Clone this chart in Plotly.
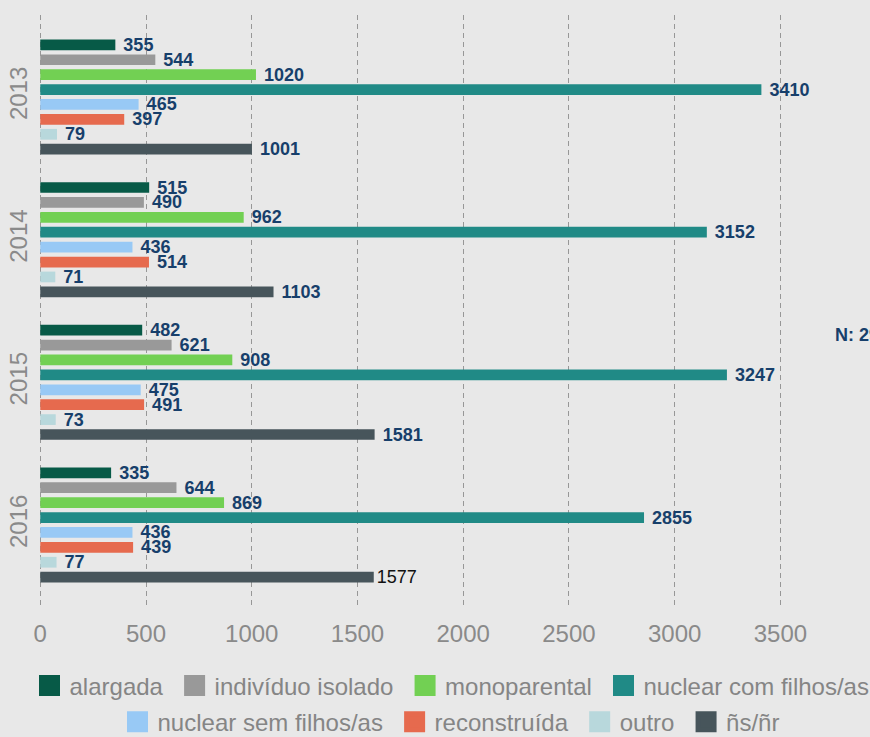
import plotly.graph_objects as go

# ---- data ----
years = ["2013", "2014", "2015", "2016"]
series_names = ["alargada", "indivíduo isolado", "monoparental", "nuclear com filhos/as",
                "nuclear sem filhos/as", "reconstruída", "outro", "ñs/ñr"]
alargada = [355, 515, 482, 335]
individuo_isolado = [544, 490, 621, 644]
monoparental = [1020, 962, 908, 869]
nuclear_com_filhos = [3410, 3152, 3247, 2855]
nuclear_sem_filhos = [465, 436, 475, 436]
reconstruida = [397, 514, 491, 439]
outro = [79, 71, 73, 77]
ns_nr = [1001, 1103, 1581, 1577]
x_ticks = [0, 500, 1000, 1500, 2000, 2500, 3000, 3500]

series_values = [alargada, individuo_isolado, monoparental, nuclear_com_filhos,
                 nuclear_sem_filhos, reconstruida, outro, ns_nr]
colors = ["#075a47", "#999999", "#72d053", "#208a86",
          "#98c9f5", "#e66a4e", "#b8d8dc", "#47555b"]

BG = "#e8e8e8"
LABEL = "#173f6b"
GRAY = "#8a8a8a"
FONT = "Liberation Sans, Arial, sans-serif"

fig = go.Figure()

for i, (name, vals, col) in enumerate(zip(series_names, series_values, colors)):
    templ = ["\u00a0<b>%{x}</b>"] * len(vals)
    tcol = [LABEL] * len(vals)
    if name == "ñs/ñr":
        templ[-1] = "%{x}"
        tcol[-1] = "#111111"
    fig.add_trace(go.Bar(
        y=years, x=vals, orientation="h", name=name,
        marker=dict(color=col, line=dict(width=0)),
        texttemplate=templ, textposition="outside",
        textfont=dict(family=FONT, size=18, color=tcol),
        constraintext="none", cliponaxis=False,
        showlegend=False, hoverinfo="x+name",
    ))

# legend entries (two rows)
for i, (name, col) in enumerate(zip(series_names, colors)):
    fig.add_trace(go.Scatter(
        x=[None], y=[None], mode="markers", name=name + "\u00a0",
        marker=dict(symbol="square", size=16, color=col, line=dict(width=5, color=col)),
        legend="legend" if i < 4 else "legend2",
        showlegend=True, hoverinfo="skip",
    ))

total_n = sum(sum(v) for v in series_values)

legend_common = dict(
    orientation="h", yanchor="middle",
    font=dict(family=FONT, size=24, color="#858585"),
    bgcolor="rgba(0,0,0,0)", itemsizing="trace", itemclick=False,
)

fig.update_layout(
    width=870, height=737,
    margin=dict(l=38.5, r=0, t=15, b=130, autoexpand=False),
    paper_bgcolor=BG, plot_bgcolor=BG,
    barmode="group", bargap=0.164, bargroupgap=0.28,
    font=dict(family=FONT, color=GRAY),
    legend=dict(x=-0.0114, xanchor="left", y=-0.1334, **legend_common),
    legend2=dict(x=0.5, xanchor="center", y=-0.1943, **legend_common),
    xaxis=dict(
        range=[-6, 3923.6], tickvals=x_ticks, showgrid=True,
        gridcolor="#979797", gridwidth=1, griddash="5px,4px",
        zeroline=False, showline=False,
        ticks="outside", ticklen=5, tickcolor=BG,
        tickfont=dict(family=FONT, size=24, color=GRAY),
    ),
    yaxis=dict(
        type="category", categoryorder="array", categoryarray=years,
        range=[3.575, -0.575], showgrid=False, zeroline=False, showline=False,
        ticks="", tickangle=-90,
        tickfont=dict(family=FONT, size=24, color=GRAY),
        ticklabelstandoff=6,
    ),
    annotations=[dict(
        text=f"<b>N: {total_n}</b>", xref="paper", yref="paper",
        x=0.955, y=0.459, xanchor="left", yanchor="middle", showarrow=False,
        font=dict(family=FONT, size=18, color=LABEL),
    )],
)

fig.write_html(
    "out.html",
    config={"displayModeBar": False},
    post_script="document.body.style.margin='0';document.body.style.overflow='hidden';",
)
